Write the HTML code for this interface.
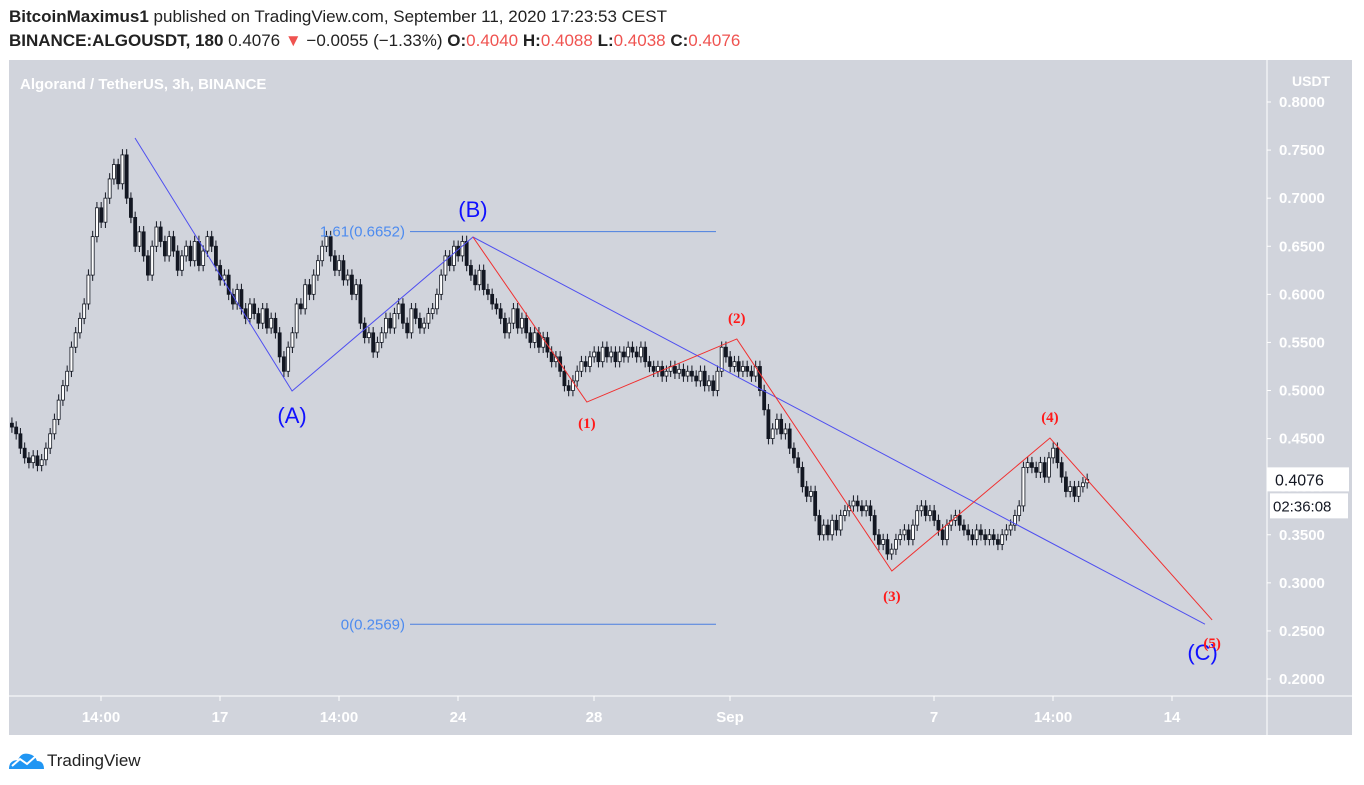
<!DOCTYPE html>
<html><head><meta charset="utf-8"><style>
body{margin:0;background:#fff;width:1364px;height:785px;overflow:hidden;font-family:"Liberation Sans",sans-serif}
#hdr1{position:absolute;left:9px;top:7px;font-size:17px;color:#222}
#hdr2{position:absolute;left:9px;top:31px;font-size:17px;color:#222}
.r{color:#ef5350}
</style></head><body>
<div id="hdr1"><b>BitcoinMaximus1</b> published on TradingView.com, September 11, 2020 17:23:53 CEST</div>
<div id="hdr2"><b>BINANCE:ALGOUSDT, 180</b> 0.4076 <span class="r">▼</span> −0.0055 (−1.33%) <b>O:</b><span class="r">0.4040</span> <b>H:</b><span class="r">0.4088</span> <b>L:</b><span class="r">0.4038</span> <b>C:</b><span class="r">0.4076</span></div>
<svg id="chart" width="1364" height="785" style="position:absolute;left:0;top:0">
<rect x="9" y="60" width="1343" height="675" fill="#d1d4dc"/>
<line x1="9" y1="696" x2="1352" y2="696" stroke="#fff"/>
<line x1="1267" y1="60" x2="1267" y2="735" stroke="#fff"/>
<text x="20" y="89" font-size="15" font-weight="bold" fill="#fff">Algorand / TetherUS, 3h, BINANCE</text>
<text x="1292" y="86" font-size="14" font-weight="bold" fill="#fff">USDT</text>
<g id="candles"></g><g id="axes"></g><g id="drawings"></g>
<g><path d="M9 769 q0-9 9-9 q3-8 11-6 q6 1 8 7 q7 0 7 8z" fill="#2196f3"/><polyline points="12,766 20,759 27,764 36,756" stroke="#fff" stroke-width="2" fill="none"/></g>
<text x="47" y="766" font-size="17" fill="#222">TradingView</text>
</svg>
<script>
const closes=[.470,.468,.473,.466,.462,
.455,.440,.430,.425,.432,.422,.428,
.440,.455,.470,.490,.505,
.520,.545,.560,.575,.590,
.620,.660,.690,.675,.700,
.720,.735,.715,.745,.700,
.680,.650,.665,.640,.620,
.650,.670,.655,.640,.660,.645,.625,.640,.650,
.635,.655,.630,.645,.660,.650,.630,.615,.620,
.600,.590,.605,.585,.575,.590,.580,.570,.585,.565,.575,.560,
.535,.520,.545,
.560,.590,.585,.610,.600,.620,.635,.650,
.660,.640,.625,.635,.615,.620,.600,.610,
.570,.555,.560,.540,.550,
.560,.575,.565,.580,.590,.570,.560,.585,.575,.565,.570,.580,
.585,.600,.620,.640,.630,
.650,.640,.655,.630,
.620,.610,.625,.605,.600,.590,
.585,.575,.560,.570,.585,.565,.575,.560,.550,
.560,.545,.555,.540,.530,.535,.520,.505,.500,
.510,.520,.530,.525,.535,
.540,.530,.545,.535,.540,.530,.540,.535,.545,
.540,.535,.545,.530,.525,.520,.525,.515,.520,.525,.518,.522,.515,.520,
.515,.510,.520,.505,.510,.500,.520,
.545,.535,.525,.530,.520,
.525,.520,.515,.525,.500,.480,
.450,.460,.470,.455,.460,.440,
.430,.420,.400,.390,.395,.370,.350,
.360,.350,.365,.355,.370,.375,.380,
.385,.380,.375,.380,.370,
.350,.340,.345,.330,.335,
.345,.350,.355,.345,.360,
.375,.380,.370,.375,.365,
.355,.345,.360,.365,.370,
.360,.355,.350,.345,.355,.350,.345,.350,.345,.340,.350,.355,
.360,.370,.380,
.420,.425,
.420,.415,.425,.410,.430,
.440,.425,
.410,.395,.400,.390,
.400,.404,.4076];
const priceTicks=[0.8,0.75,0.7,0.65,0.6,0.55,0.5,0.45,0.4,0.35,0.3,0.25,0.2];
const timeTickDays=[-3.5,0,3.5,7,11,15,21,24.5,28];
const timeTickLabels=["14:00","17","14:00","24","28","Sep","7","14:00","14"];
const startDay=-6.62;
const blueWave=[[-2.5,0.7626],[2.12,0.4995],[7.44,0.6596],[28.97,0.257]];
const redWave=[[7.44,0.6596],[10.79,0.488],[15.2,0.5536],[19.76,0.3123],[24.41,0.4506],[29.18,0.2614]];
const blueLabels=[["(A)",2.12,0.4995,32],["(B)",7.44,0.6596,-20],["(C)",28.9,0.257,36]];
const redLabels=[["(1)",10.79,0.488,26],["(2)",15.2,0.5536,-16],["(3)",19.76,0.3123,30],["(4)",24.41,0.4506,-16],["(5)",29.18,0.2614,28]];
const fibLevels=[["1.61(0.6652)",0.6652],["0(0.2569)",0.2569]];
const ns="http://www.w3.org/2000/svg";
const y=p=>102+(0.8-p)*961.7;
const x=d=>220+d*34;
function mk(t,a,parent){const e=document.createElementNS(ns,t);for(const k in a)e.setAttribute(k,a[k]);parent.appendChild(e);return e;}
const cg=document.getElementById('candles'),ag=document.getElementById('axes'),dg=document.getElementById('drawings');
closes.forEach((c,i)=>{
 const o=i?closes[i-1]:c;const cx=x(startDay+i*0.125);if(cx<10)return;
 const hi=Math.max(o,c)+0.006,lo=Math.min(o,c)-0.006,up=c>=o;
 const w=mk('line',{x1:cx,x2:cx,y1:y(hi),y2:y(lo),stroke:'#131722','stroke-width':1},cg);
 
 
 const b=mk('rect',{x:cx-1.5,y:y(Math.max(o,c)),width:3,height:Math.max(1,Math.abs(y(o)-y(c))),fill:up?'#fff':'#131722',stroke:'#131722','stroke-width':0.8},cg);
 
 
});
priceTicks.forEach(p=>{
 const t=mk('text',{x:1279,y:y(p)+5,'font-size':15,'font-weight':'bold',fill:'#fff'},ag);t.textContent=p.toFixed(4);
 
 
 mk('line',{x1:1267,x2:1271,y1:y(p),y2:y(p),stroke:'#fff'},ag);
});
timeTickDays.forEach((d,i)=>{
 mk('line',{x1:x(d),x2:x(d),y1:696,y2:701,stroke:'#fff'},ag);
 const t=mk('text',{x:x(d),y:722,'font-size':15,'font-weight':'bold',fill:'#fff','text-anchor':'middle'},ag);t.textContent=timeTickLabels[i];
 
 
});
const last=closes[closes.length-1];
const pb=mk('rect',{x:1267,y:y(last)-12,width:82,height:24,fill:'#fff'},ag);


const pt=mk('text',{x:1275,y:y(last)+6,'font-size':16,fill:'#131722'},ag);pt.textContent=last.toFixed(4);
const tb=mk('rect',{x:1270,y:y(last)+14,width:78,height:25,fill:'#fff'},ag);


const tt=mk('text',{x:1273,y:y(last)+32,'font-size':15,fill:'#131722'},ag);tt.textContent='02:36:08';
fibLevels.forEach(f=>{
 const l=mk('line',{x1:410,x2:716,y1:y(f[1]),y2:y(f[1]),stroke:'#4a7fe0','stroke-width':1},dg);
 
 
 const t=mk('text',{x:405,y:y(f[1])+5,'font-size':15,fill:'#4d8bef','text-anchor':'end'},dg);t.textContent=f[0];
 
 
});
const bl=mk('polyline',{points:blueWave.map(p=>x(p[0])+','+y(p[1])).join(' '),fill:'none',stroke:'#4f4ff0','stroke-width':1},dg);


const rl=mk('polyline',{points:redWave.map(p=>x(p[0])+','+y(p[1])).join(' '),fill:'none',stroke:'#f03030','stroke-width':1},dg);


blueLabels.forEach(l=>{const t=mk('text',{x:x(l[1]),y:y(l[2])+l[3],'font-size':22,fill:'#1010ff','text-anchor':'middle'},dg);t.textContent=l[0];
 
 });
redLabels.forEach(l=>{const t=mk('text',{x:x(l[1]),y:y(l[2])+l[3],'font-size':15,'font-weight':'bold','font-family':'Liberation Serif,serif',fill:'#ff1a1a','text-anchor':'middle'},dg);t.textContent=l[0];
 
 });
</script>
</body></html>
